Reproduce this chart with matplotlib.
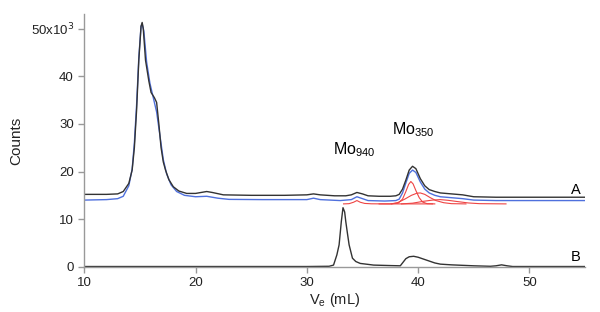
import matplotlib
matplotlib.use("Agg")
import matplotlib.pyplot as plt

plt.rcParams['font.family'] = ['Liberation Sans', 'DejaVu Sans']

a_x = [10.0, 12.0, 13.0, 13.5, 14.0, 14.3, 14.5, 14.7, 14.9, 15.1, 15.2, 15.3, 15.5, 15.8,
       16.0, 16.3, 16.5, 16.7, 16.9, 17.1, 17.3, 17.6, 18.0, 18.5, 19.2, 20.0, 20.5, 21.0,
       21.5, 22.5, 25.0, 28.0, 30.0, 30.6, 31.2, 32.5, 33.5, 34.0, 34.5, 35.0, 35.5, 36.5,
       37.5, 38.0, 38.3, 38.6, 38.9, 39.2, 39.5, 39.8, 40.2, 40.6, 41.0, 41.5, 42.0, 43.0,
       44.0, 44.5, 45.0, 47.0, 50.0, 55.0]
a_y = [15.2, 15.2, 15.3, 15.8, 17.5, 20.3, 25.0, 32.9, 43.4, 50.5, 51.3, 50.0, 43.4, 39.0,
       36.6, 35.5, 34.5, 30.0, 25.0, 22.0, 20.3, 18.3, 16.8, 15.9, 15.4, 15.4, 15.6, 15.8,
       15.6, 15.1, 15.0, 15.0, 15.1, 15.3, 15.1, 14.9, 14.9, 15.1, 15.6, 15.3, 14.9, 14.8,
       14.8, 14.9, 15.2, 16.3, 18.2, 20.3, 21.1, 20.6, 18.5, 17.0, 16.2, 15.8, 15.5, 15.3,
       15.1, 14.9, 14.7, 14.6, 14.6, 14.6]

# trace A fit (blue)
fit_x = [10.0, 12.0, 13.0, 13.5, 14.0, 14.3, 14.5, 14.7, 14.9, 15.1, 15.2, 15.35, 15.6, 15.9,
         16.2, 16.5, 16.8, 17.1, 17.4, 17.8, 18.3, 19.0, 20.0, 21.0, 22.0, 23.0, 26.0, 30.0,
         30.6, 31.2, 33.0, 34.0, 34.5, 35.0, 35.5, 37.0, 38.0, 38.3, 38.6, 38.9, 39.2, 39.5,
         39.8, 40.2, 40.6, 41.0, 41.5, 42.0, 43.0, 44.0, 45.0, 47.0, 55.0]
fit_y = [14.0, 14.1, 14.3, 14.8, 17.0, 20.5, 26.0, 34.0, 44.0, 50.5, 51.0, 49.5, 43.0, 38.5,
         35.5, 32.5, 27.5, 22.5, 19.5, 17.2, 15.8, 15.0, 14.7, 14.8, 14.4, 14.15, 14.1, 14.1,
         14.4, 14.1, 13.9, 14.1, 14.7, 14.3, 13.9, 13.8, 13.9, 14.2, 15.5, 17.6, 19.6, 20.3,
         19.8, 17.8, 16.3, 15.5, 15.0, 14.7, 14.5, 14.3, 14.0, 13.9, 13.9]

# fitted components (red)
comp_x = [
    [33.3, 33.8, 34.2, 34.5, 34.8, 35.2, 35.8, 37.0, 39.0, 41.3],
    [36.5, 37.5, 38.2, 38.6, 38.9, 39.15, 39.35, 39.55, 39.8, 40.1, 40.4, 40.8, 41.5],
    [37.6, 38.2, 38.8, 39.4, 39.9, 40.2, 40.6, 41.1, 41.6, 42.3, 43.0, 44.3],
    [38.5, 39.5, 40.5, 41.3, 42.0, 42.7, 43.5, 44.5, 45.5, 47.9],
]
comp_y = [
    [13.2, 13.25, 13.55, 13.9, 13.55, 13.3, 13.22, 13.2, 13.2, 13.2],
    [13.2, 13.2, 13.35, 14.2, 15.8, 17.3, 17.9, 17.4, 16.0, 14.5, 13.6, 13.25, 13.2],
    [13.2, 13.5, 14.2, 15.0, 15.45, 15.5, 15.2, 14.5, 13.9, 13.45, 13.25, 13.2],
    [13.2, 13.35, 13.75, 14.0, 14.1, 13.95, 13.7, 13.4, 13.25, 13.2],
]

# trace B
b_x = [10.0, 30.0, 32.0, 32.4, 32.7, 32.9, 33.1, 33.25, 33.4, 33.5, 33.65, 33.8, 34.1, 34.4,
       34.8, 35.5, 36.0, 37.5, 38.4, 38.6, 38.9, 39.2, 39.6, 40.0, 40.5, 41.0, 41.5, 42.0,
       43.0, 44.0, 45.0, 46.5, 47.0, 47.5, 48.0, 48.5, 55.0]
b_y = [0.05, 0.05, 0.1, 0.35, 2.5, 4.6, 9.5, 12.4, 11.5, 9.5, 7.0, 4.6, 1.8, 1.1,
       0.7, 0.5, 0.35, 0.25, 0.2, 0.8, 1.7, 2.1, 2.2, 2.0, 1.6, 1.2, 0.8, 0.55,
       0.4, 0.3, 0.2, 0.1, 0.2, 0.4, 0.2, 0.05, 0.05]

yticks = [0, 10, 20, 30, 40, 50]
ytick_labels = ['0', '10', '20', '30', '40', r'50x10$^3$']

fig = plt.figure(figsize=(6, 3.12), dpi=100)
ax = fig.add_axes([0.1405, 0.145, 0.8345, 0.809])

for cx, cy in zip(comp_x, comp_y):
    ax.plot(cx, cy, color='#ee4444', lw=0.8)
ax.plot(fit_x, fit_y, color='#4f70dd', lw=1.0)
ax.plot(a_x, a_y, color='#333333', lw=1.0)
ax.plot(b_x, b_y, color='#333333', lw=1.0)

ax.set_xlim(10, 55)
ax.set_ylim(0, 53)
ax.set_xticks([10, 20, 30, 40, 50])
ax.set_yticks(yticks)
ax.set_yticklabels(ytick_labels)

for s in ['top', 'right']:
    ax.spines[s].set_visible(False)
for s in ['left', 'bottom']:
    ax.spines[s].set_color('#999999')
    ax.spines[s].set_linewidth(1.0)
ax.tick_params(colors='#999999', labelcolor='#222222', labelsize=9.5, length=4, width=1)

ax.set_ylabel('Counts', fontsize=11, color='#222222', labelpad=5)
ax.set_xlabel(r'V$_\mathregular{e}$ (mL)', fontsize=10.5, color='#222222', labelpad=1)

ax.text(34.3, 24.5, r'Mo$_\mathregular{940}$', fontsize=11.5, ha='center', va='center')
ax.text(39.6, 28.8, r'Mo$_\mathregular{350}$', fontsize=11.5, ha='center', va='center')
ax.text(54.6, 16.2, 'A', fontsize=10.5, ha='right', va='center')
ax.text(54.6, 2.0, 'B', fontsize=10.5, ha='right', va='center')

fig.savefig('out.png', dpi=100)
